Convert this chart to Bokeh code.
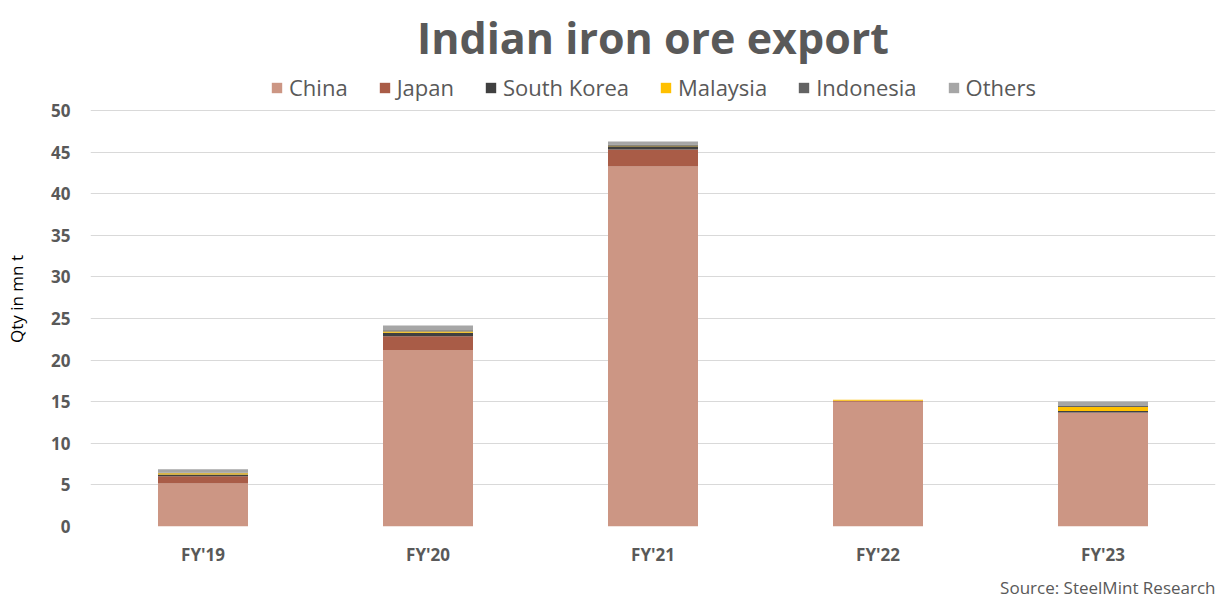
from bokeh.plotting import figure
from bokeh.models import Range1d, Legend, LegendItem, Title, FixedTicker
from bokeh.embed import file_html
from bokeh.resources import INLINE

years = ["FY'19", "FY'20", "FY'21", "FY'22", "FY'23"]
china = [5.17, 21.20, 43.27, 15.00, 13.66]
japan = [0.88, 1.68, 2.04, 0.10, 0.05]
south_korea = [0.20, 0.40, 0.40, 0.02, 0.16]
malaysia = [0.15, 0.16, 0.05, 0.10, 0.48]
indonesia = [0.05, 0.16, 0.16, 0.00, 0.12]
others = [0.44, 0.56, 0.35, 0.02, 0.55]
y_ticks = [0, 5, 10, 15, 20, 25, 30, 35, 40, 45, 50]

series = ["China", "Japan", "South Korea", "Malaysia", "Indonesia", "Others"]
colors = ["#CC9684", "#A95C47", "#404040", "#FFC000", "#636363", "#A6A6A6"]

data = dict(years=years, China=china, Japan=japan, **{"South Korea": south_korea},
            Malaysia=malaysia, Indonesia=indonesia, Others=others)

# frame extends above the 50 gridline to host the legend
FRAME_H = 455
p = figure(x_range=years, frame_width=1125, frame_height=FRAME_H, output_backend="svg",
           toolbar_location=None, min_border_left=90, min_border_right=10,
           min_border_top=0, min_border_bottom=73)
p.y_range = Range1d(0, 50 * FRAME_H / 416)

rs = p.vbar_stack(series, x="years", width=0.4, color=colors, source=data, line_width=0)

p.title.text = "Indian iron ore export"
p.title.align = "center"
p.title.text_font = "Open Sans"
p.title.text_font_size = "43px"
p.title.text_font_style = "bold"
p.title.text_color = "#595959"

legend = Legend(items=[LegendItem(label=s, renderers=[r]) for s, r in zip(series, rs)],
                orientation="horizontal", location=(180, 424))
legend.label_text_font = "Open Sans"
legend.label_text_font_size = "22px"
legend.label_text_color = "#595959"
legend.glyph_width = 13
legend.glyph_height = 13
legend.spacing = 30
legend.label_standoff = 6
legend.border_line_color = None
legend.background_fill_alpha = 0
legend.padding = 2
legend.margin = 0
p.add_layout(legend)

p.add_layout(Title(text="Source: SteelMint Research", align="right", text_font="Open Sans",
                   text_font_size="17px", text_font_style="normal", text_color="#595959"), "below")

p.yaxis.ticker = FixedTicker(ticks=y_ticks)
p.yaxis.axis_label = "Qty in mn t"
p.yaxis.axis_label_text_font = "Open Sans"
p.yaxis.axis_label_text_font_size = "17px"
p.yaxis.axis_label_text_font_style = "normal"
p.yaxis.axis_label_text_color = "#000000"
p.yaxis.axis_label_standoff = 20
for ax in (p.xaxis, p.yaxis):
    ax.axis_line_color = None
    ax.major_tick_line_color = None
    ax.minor_tick_line_color = None
    ax.major_label_text_font = "Open Sans"
    ax.major_label_text_font_size = "17px"
    ax.major_label_text_font_style = "bold"
    ax.major_label_text_color = "#595959"
p.yaxis.major_label_standoff = 14
p.xaxis.major_label_standoff = 10

p.xgrid.grid_line_color = None
p.ygrid.grid_line_color = "#D9D9D9"
p.ygrid.grid_line_width = 1
p.x_range.range_padding = 0
p.outline_line_color = None
p.background_fill_color = "white"
p.border_fill_color = "white"

open("out.html", "w").write(file_html(p, INLINE))
